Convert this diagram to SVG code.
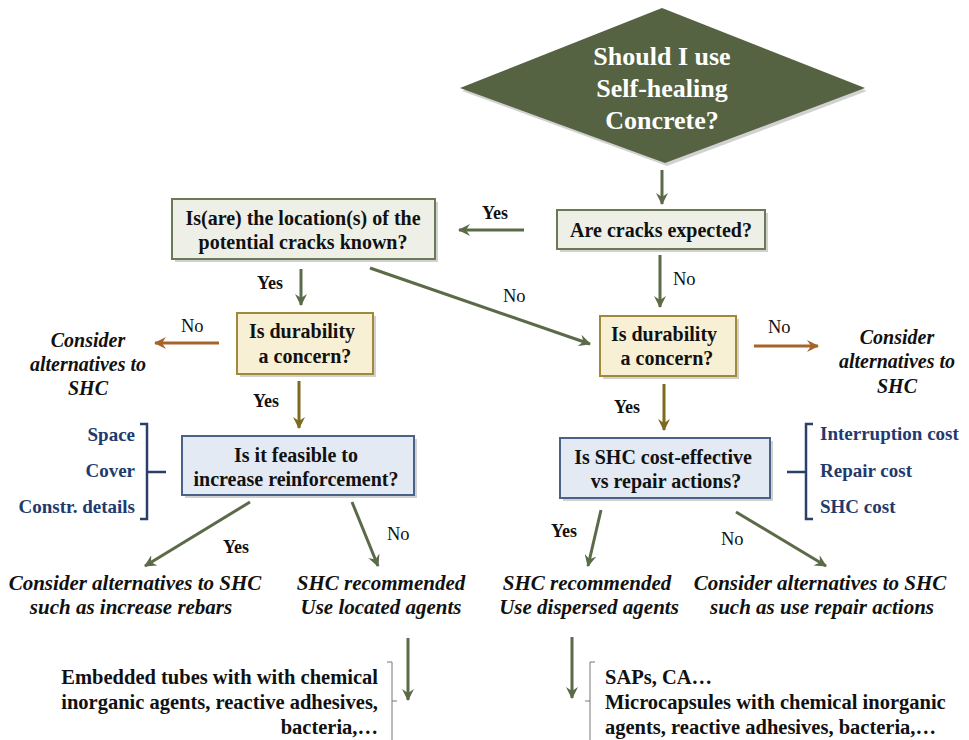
<svg xmlns="http://www.w3.org/2000/svg" width="969" height="740" viewBox="0 0 969 740">
<defs>
<marker id="ag" viewBox="0 0 12 12" refX="11" refY="6" markerWidth="12" markerHeight="12" markerUnits="userSpaceOnUse" orient="auto">
<path d="M0,0 L12,6 L0,12 L4,6 Z" fill="#5b6b48"/>
</marker>
<marker id="ao" viewBox="0 0 12 12" refX="11" refY="6" markerWidth="12" markerHeight="12" markerUnits="userSpaceOnUse" orient="auto">
<path d="M0,0 L12,6 L0,12 L4,6 Z" fill="#a5652a"/>
</marker>
<marker id="ab" viewBox="0 0 12 12" refX="11" refY="6" markerWidth="12" markerHeight="12" markerUnits="userSpaceOnUse" orient="auto">
<path d="M0,0 L12,6 L0,12 L4,6 Z" fill="#7d6a1f"/>
</marker>
</defs>
<style>
.dt{font-size:26px;font-weight:bold;fill:#fff;text-anchor:middle;}
.bt{font-size:20px;font-weight:bold;fill:#111;text-anchor:middle;}
.lb{font-size:18.5px;fill:#111;}
.lbb{font-size:18px;font-weight:bold;fill:#111;}
.it{font-size:20px;font-weight:bold;font-style:italic;fill:#111;text-anchor:middle;}
.it2{font-size:21px;font-weight:bold;font-style:italic;fill:#111;text-anchor:middle;}
.bl{font-size:19px;font-weight:bold;fill:#1f3a6e;}
.bottom{font-size:20.5px;font-weight:bold;fill:#111;}
.sd{fill:#000;opacity:0.18;}
.g{stroke:#5b6b48;stroke-width:3;fill:none;}
.o{stroke:#a5652a;stroke-width:3;fill:none;}
.b{stroke:#7d6a1f;stroke-width:3;fill:none;}
.br{stroke:#2b3f6b;stroke-width:2.5;fill:none;}
.brg{stroke:#777;stroke-width:1;fill:none;}
</style>

<g id="start">
<polygon class="sd" points="664,11 867,91 667,166 462,91"/>
<polygon points="662,8 865,88 665,163 460,88" fill="#566342"/>
<text class="dt" font-family="Liberation Serif" x="662" y="65">Should I use</text>
<text class="dt" font-family="Liberation Serif" x="662" y="97">Self-healing</text>
<text class="dt" font-family="Liberation Serif" x="662" y="129">Concrete?</text>
</g>

<g id="cracks">
<rect class="sd" x="560" y="213" width="208" height="39"/>
<rect x="557" y="210" width="208" height="39" fill="#eef0e8" stroke="#6b7a55" stroke-width="2"/>
<text class="bt" font-family="Liberation Serif" x="661" y="237">Are cracks expected?</text>
</g>

<g id="location">
<rect class="sd" x="175" y="202" width="263" height="60"/>
<rect x="172" y="199" width="263" height="60" fill="#eef0e8" stroke="#6b7a55" stroke-width="2"/>
<text class="bt" font-family="Liberation Serif" x="303" y="225">Is(are) the location(s) of the</text>
<text class="bt" font-family="Liberation Serif" x="303" y="249">potential cracks known?</text>
</g>

<g id="durL">
<rect class="sd" x="240" y="316" width="136" height="61"/>
<rect x="237" y="313" width="136" height="61" fill="#f8f0d5" stroke="#a08a3a" stroke-width="2"/>
<text class="bt" font-family="Liberation Serif" x="302" y="338">Is durability</text>
<text class="bt" font-family="Liberation Serif" x="305" y="363">a concern?</text>
</g>

<g id="durR">
<rect class="sd" x="603" y="319" width="136" height="60"/>
<rect x="600" y="316" width="136" height="60" fill="#f8f0d5" stroke="#a08a3a" stroke-width="2"/>
<text class="bt" font-family="Liberation Serif" x="664" y="341">Is durability</text>
<text class="bt" font-family="Liberation Serif" x="667" y="365">a concern?</text>
</g>

<g id="altL">
<text class="it" font-family="Liberation Serif" x="88" y="347">Consider</text>
<text class="it" font-family="Liberation Serif" x="88" y="371">alternatives to</text>
<text class="it" font-family="Liberation Serif" x="88" y="395">SHC</text>
</g>

<g id="altR">
<text class="it" font-family="Liberation Serif" x="897" y="344">Consider</text>
<text class="it" font-family="Liberation Serif" x="897" y="368">alternatives to</text>
<text class="it" font-family="Liberation Serif" x="897" y="393">SHC</text>
</g>

<g id="feasible">
<rect class="sd" x="185" y="439" width="232" height="59"/>
<rect x="182" y="436" width="232" height="59" fill="#e3eaf3" stroke="#4a6288" stroke-width="2"/>
<text class="bt" font-family="Liberation Serif" x="296" y="462">Is it feasible to</text>
<text class="bt" font-family="Liberation Serif" x="296" y="486">increase reinforcement?</text>
</g>

<g id="costeff">
<rect class="sd" x="563" y="441" width="210" height="60"/>
<rect x="560" y="438" width="210" height="60" fill="#e3eaf3" stroke="#4a6288" stroke-width="2"/>
<text class="bt" font-family="Liberation Serif" x="663" y="464">Is SHC cost-effective</text>
<text class="bt" font-family="Liberation Serif" x="666" y="488">vs repair actions?</text>
</g>

<g id="factorsL">
<path class="br" d="M140,424 H147 V519 H140 M147,472 H166"/>
<text class="bl" font-family="Liberation Serif" x="135" y="441" text-anchor="end">Space</text>
<text class="bl" font-family="Liberation Serif" x="135" y="477" text-anchor="end">Cover</text>
<text class="bl" font-family="Liberation Serif" x="135" y="513" text-anchor="end">Constr. details</text>
</g>

<g id="factorsR">
<path class="br" d="M813,424 H806 V519 H813 M806,472 H787"/>
<text class="bl" font-family="Liberation Serif" x="820" y="440">Interruption cost</text>
<text class="bl" font-family="Liberation Serif" x="820" y="477">Repair cost</text>
<text class="bl" font-family="Liberation Serif" x="820" y="513">SHC cost</text>
</g>

<g id="out1">
<text class="it2" font-family="Liberation Serif" x="135" y="590">Consider alternatives to SHC</text>
<text class="it2" font-family="Liberation Serif" x="131" y="614">such as increase rebars</text>
</g>
<g id="out2">
<text class="it2" font-family="Liberation Serif" x="381" y="590">SHC recommended</text>
<text class="it2" font-family="Liberation Serif" x="381" y="614">Use located agents</text>
</g>
<g id="out3">
<text class="it2" font-family="Liberation Serif" x="587" y="590">SHC recommended</text>
<text class="it2" font-family="Liberation Serif" x="589" y="614">Use dispersed agents</text>
</g>
<g id="out4">
<text class="it2" font-family="Liberation Serif" x="820" y="590">Consider alternatives to SHC</text>
<text class="it2" font-family="Liberation Serif" x="822" y="614">such as use repair actions</text>
</g>

<g id="agentsL">
<path class="brg" d="M387,662 H392 V740 M392,701 H397"/>
<text class="bottom" font-family="Liberation Serif" x="378" y="684" text-anchor="end">Embedded tubes with with chemical</text>
<text class="bottom" font-family="Liberation Serif" x="378" y="709" text-anchor="end">inorganic agents, reactive adhesives,</text>
<text class="bottom" font-family="Liberation Serif" x="378" y="734" text-anchor="end">bacteria,…</text>
</g>

<g id="agentsR">
<path class="brg" d="M595,662 H590 V740 M590,701 H585"/>
<text class="bottom" font-family="Liberation Serif" x="605" y="684">SAPs, CA…</text>
<text class="bottom" font-family="Liberation Serif" x="605" y="709">Microcapsules with chemical inorganic</text>
<text class="bottom" font-family="Liberation Serif" x="605" y="734">agents, reactive adhesives, bacteria,…</text>
</g>

<g id="connectors">
<line class="g" x1="662" y1="170" x2="662" y2="204" marker-end="url(#ag)"/>
<line class="g" x1="524" y1="230" x2="459" y2="230" marker-end="url(#ag)"/>
<line class="g" x1="660" y1="255" x2="660" y2="307" marker-end="url(#ag)"/>
<line class="g" x1="301" y1="269" x2="301" y2="305" marker-end="url(#ag)"/>
<line class="g" x1="370" y1="268" x2="590" y2="344" marker-end="url(#ag)"/>
<line class="o" x1="219" y1="343" x2="155" y2="343" marker-end="url(#ao)"/>
<line class="o" x1="754" y1="346" x2="818" y2="346" marker-end="url(#ao)"/>
<line class="b" x1="299" y1="381" x2="299" y2="428" marker-end="url(#ab)"/>
<line class="b" x1="664" y1="384" x2="664" y2="430" marker-end="url(#ab)"/>
<line class="g" x1="250" y1="502" x2="145" y2="566" marker-end="url(#ag)"/>
<line class="g" x1="352" y1="502" x2="378" y2="566" marker-end="url(#ag)"/>
<line class="g" x1="601" y1="510" x2="588" y2="566" marker-end="url(#ag)"/>
<line class="g" x1="736" y1="512" x2="826" y2="566" marker-end="url(#ag)"/>
<line class="g" x1="408" y1="638" x2="408" y2="700" marker-end="url(#ag)"/>
<line class="g" x1="572" y1="637" x2="572" y2="698" marker-end="url(#ag)"/>
<text class="lbb" font-family="Liberation Serif" x="482" y="219">Yes</text>
<text class="lb" font-family="Liberation Serif" x="673" y="285">No</text>
<text class="lbb" font-family="Liberation Serif" x="257" y="289">Yes</text>
<text class="lb" font-family="Liberation Serif" x="503" y="302">No</text>
<text class="lb" font-family="Liberation Serif" x="181" y="332">No</text>
<text class="lb" font-family="Liberation Serif" x="768" y="333">No</text>
<text class="lbb" font-family="Liberation Serif" x="253" y="407">Yes</text>
<text class="lbb" font-family="Liberation Serif" x="614" y="413">Yes</text>
<text class="lbb" font-family="Liberation Serif" x="223" y="553">Yes</text>
<text class="lb" font-family="Liberation Serif" x="387" y="540">No</text>
<text class="lbb" font-family="Liberation Serif" x="551" y="537">Yes</text>
<text class="lb" font-family="Liberation Serif" x="721" y="545">No</text>
</g>
</svg>
